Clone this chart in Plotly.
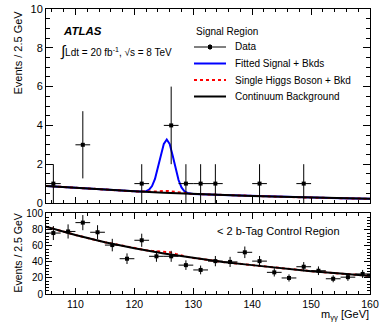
import numpy as np
import plotly.graph_objects as go

# ---------------- data ----------------
# Signal region (top panel): non-empty 2.5 GeV bins
sr_mass = [106.25, 111.25, 121.25, 126.25, 128.75, 131.25, 133.75, 141.25, 148.75]
sr_events = [1, 3, 1, 4, 1, 1, 1, 1, 1]

# Continuum background in the signal region
bkg_mass = [105, 110, 115, 120, 125, 130, 135, 140, 145, 150, 155, 160]
sr_bkg = [0.88, 0.775, 0.683, 0.601, 0.530, 0.466, 0.410, 0.361, 0.318, 0.280, 0.246, 0.217]

# Fitted signal + backgrounds / single Higgs + background
fit_mass = [105, 110, 115, 120, 121, 121.5, 122, 122.5, 123, 123.5, 124, 124.5, 125, 125.5,
            126, 126.5, 127, 127.5, 128, 128.5, 129, 129.5, 130, 135, 140, 145, 150, 155, 160]
sr_fit = [0.88, 0.775, 0.683, 0.601, 0.588, 0.590, 0.611, 0.686, 0.872, 1.237, 1.803, 2.481,
          3.05, 3.274, 3.037, 2.454, 1.763, 1.183, 0.805, 0.606, 0.518, 0.483, 0.468,
          0.410, 0.361, 0.318, 0.280, 0.246, 0.217]
sr_higgs = [0.88, 0.775, 0.683, 0.601, 0.587, 0.581, 0.576, 0.575, 0.578, 0.587, 0.600, 0.615,
            0.624, 0.624, 0.611, 0.588, 0.560, 0.533, 0.511, 0.495, 0.483, 0.474, 0.467,
            0.410, 0.361, 0.318, 0.280, 0.246, 0.217]

# < 2 b-tag control region (bottom panel)
cr_mass = [106.25, 108.75, 111.25, 113.75, 116.25, 118.75, 121.25, 123.75, 126.25, 128.75,
           131.25, 133.75, 136.25, 138.75, 141.25, 143.75, 146.25, 148.75, 151.25, 153.75,
           156.25, 158.75]
cr_events = [76, 78, 89, 77, 61, 44, 67, 47, 47, 36, 30, 41, 40, 52, 41, 27, 20, 34, 29, 19, 21, 25]
cr_bkg = [84, 73.5, 64.5, 57, 50.5, 45, 40, 36, 32, 28.5, 25.5, 22.5]
cr_higgs_mass = [105, 110, 115, 120, 121, 122, 123, 124, 125, 126, 127, 128, 129, 130,
                 135, 140, 145, 150, 155, 160]
cr_higgs = [84, 73.5, 64.5, 57, 55.7, 54.6, 53.7, 53.4, 53.3, 52.2, 49.9, 47.8, 46.3, 45,
            40, 36, 32, 28.5, 25.5, 22.5]

legend_title = "Signal Region"
legend_labels = ["Data", "Fitted Signal + Bkds", "Single Higgs Boson + Bkd", "Continuum Background"]

bin_half = 1.25
FONT = "Liberation Sans, Arial, Helvetica, sans-serif"
BLUE, RED = "#0000ff", "#ff0000"

fig = go.Figure()

fig.add_trace(go.Scatter(x=fit_mass, y=sr_fit, mode="lines", name=legend_labels[1],
                         line=dict(color=BLUE, width=2), xaxis="x", yaxis="y"))
fig.add_trace(go.Scatter(x=fit_mass, y=sr_higgs, mode="lines", name=legend_labels[2],
                         line=dict(color=RED, width=2, dash="dot"), xaxis="x", yaxis="y"))
fig.add_trace(go.Scatter(x=bkg_mass, y=sr_bkg, mode="lines", name=legend_labels[3],
                         line=dict(color="black", width=2), xaxis="x", yaxis="y"))
fig.add_trace(go.Scatter(x=sr_mass, y=sr_events, mode="markers", name=legend_labels[0],
                         marker=dict(color="black", size=4, symbol="square"),
                         error_y=dict(type="data", array=list(np.sqrt(sr_events)), color="black",
                                      thickness=1, width=0),
                         error_x=dict(type="constant", value=bin_half, color="black",
                                      thickness=1, width=0),
                         xaxis="x", yaxis="y"))

# bottom panel
fig.add_trace(go.Scatter(x=cr_higgs_mass, y=cr_higgs, mode="lines", showlegend=False,
                         line=dict(color=RED, width=2, dash="dot"), xaxis="x2", yaxis="y2"))
fig.add_trace(go.Scatter(x=bkg_mass, y=cr_bkg, mode="lines", showlegend=False,
                         line=dict(color="black", width=2), xaxis="x2", yaxis="y2"))
fig.add_trace(go.Scatter(x=cr_mass, y=cr_events, mode="markers", showlegend=False,
                         marker=dict(color="black", size=4, symbol="square"),
                         error_y=dict(type="data", array=list(np.sqrt(cr_events)), color="black",
                                      thickness=1, width=0),
                         error_x=dict(type="constant", value=bin_half, color="black",
                                      thickness=1, width=0),
                         xaxis="x2", yaxis="y2"))

W, H = 382, 323
ml, mr, mt, mb = 46, 12, 9, 29
ph = H - mt - mb
pw = W - ml - mr


def py(pix):
    return (H - mb - pix) / ph


def px(pix):
    return (pix - ml) / pw


axis_common = dict(showgrid=False, zeroline=False, showline=True, linecolor="black",
                   linewidth=1, mirror="ticks", ticks="inside", tickcolor="black",
                   tickwidth=1)

fig.update_layout(
    width=W, height=H,
    margin=dict(l=ml, r=mr, t=mt, b=mb, autoexpand=False),
    paper_bgcolor="white", plot_bgcolor="white",
    font=dict(family=FONT, color="black", size=10),
    showlegend=False,
    xaxis=dict(domain=[0, 1], anchor="y", range=[105, 160], showticklabels=False,
               dtick=10, tick0=110, ticklen=6,
               minor=dict(dtick=2, tick0=106, ticks="inside", ticklen=3, tickcolor="black"),
               **axis_common),
    yaxis=dict(domain=[py(203), 1], anchor="x", range=[0, 10], dtick=2, ticklen=7,
               tickfont=dict(size=11),
               minor=dict(dtick=0.5, ticks="inside", ticklen=4, tickcolor="black"),
               **axis_common),
    xaxis2=dict(domain=[0, 1], anchor="y2", range=[105, 160], dtick=10, tick0=110, ticklen=6,
                tickfont=dict(size=10.5),
                minor=dict(dtick=2, tick0=106, ticks="inside", ticklen=3, tickcolor="black"),
                **axis_common),
    yaxis2=dict(domain=[0, py(213)], anchor="x2", range=[0, 101], dtick=20, ticklen=6,
                tickfont=dict(size=10),
                minor=dict(dtick=4, ticks="inside", ticklen=3, tickcolor="black"),
                **axis_common),
)

annos = [
    dict(text="<b><i>ATLAS</i></b>", x=px(61), y=py(31), xanchor="left", yanchor="middle",
         font=dict(size=11.5)),
    dict(text="<span style='font-size:15px'>∫</span>Ldt = 20 fb<sup>-1</sup>, √s = 8 TeV",
         x=px(58), y=py(51), xanchor="left", yanchor="middle", font=dict(size=10)),
    dict(text="&lt; 2 b-Tag Control Region", x=px(278), y=py(231), xanchor="center",
         yanchor="middle", font=dict(size=11)),
    dict(text="m<sub>γγ</sub> [GeV]", x=px(371), y=py(315), xanchor="right", yanchor="middle",
         font=dict(size=11)),
    dict(text="Events / 2.5 GeV", x=px(17.5), y=py(9), xanchor="center", yanchor="top",
         textangle=-90, font=dict(size=11)),
    dict(text="Events / 2.5 GeV", x=px(17.5), y=py(253), xanchor="center", yanchor="middle",
         textangle=-90, font=dict(size=10.5)),
]

# ---- hand-drawn legend (ROOT style, no box) ----
leg_x0, leg_x1, leg_tx = 194, 226, 233
leg_title_y = 31
leg_rows = [47, 63.5, 80, 96.5]
annos.append(dict(text=legend_title, x=px(leg_x0), y=py(leg_title_y), xanchor="left",
                  yanchor="middle", font=dict(size=10)))
for lab, ry in zip(legend_labels, leg_rows):
    annos.append(dict(text=lab, x=px(leg_tx), y=py(ry), xanchor="left", yanchor="middle",
                      font=dict(size=10)))
for a in annos:
    a.update(xref="paper", yref="paper", showarrow=False)

shapes = []
line_styles = [None, dict(color=BLUE, width=2), dict(color=RED, width=2, dash="dot"),
               dict(color="black", width=2)]
for st, ry in zip(line_styles, leg_rows):
    if st is None:
        shapes.append(dict(type="line", x0=px(leg_x0), x1=px(leg_x1), y0=py(ry), y1=py(ry),
                           line=dict(color="black", width=1)))
        cx = (leg_x0 + leg_x1) / 2
        shapes.append(dict(type="line", x0=px(cx), x1=px(cx), y0=py(ry - 3), y1=py(ry + 3),
                           line=dict(color="black", width=1)))
        shapes.append(dict(type="rect", x0=px(cx - 2), x1=px(cx + 2), y0=py(ry - 2),
                           y1=py(ry + 2), line=dict(width=0), fillcolor="black"))
    else:
        shapes.append(dict(type="line", x0=px(leg_x0), x1=px(leg_x1), y0=py(ry), y1=py(ry),
                           line=st))
for s in shapes:
    s.update(xref="paper", yref="paper")

fig.update_layout(annotations=annos, shapes=shapes)

# remove the browser's default 8px page margin so the figure sits at the window origin
fig.write_html("out.html",
               config={"displayModeBar": False, "staticPlot": True},
               post_script="document.body.style.margin='0';document.body.style.overflow='hidden';")
